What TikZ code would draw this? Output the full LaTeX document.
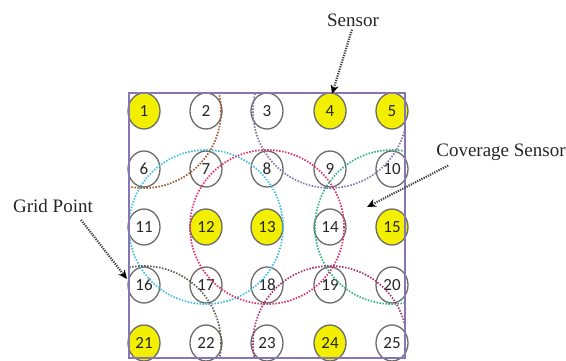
\documentclass[tikz,border=0pt]{standalone}
\usepackage{fontspec}
\setmainfont{Liberation Serif}
\newfontfamily\numfont{Carlito}
\usetikzlibrary{arrows.meta,shapes.geometric}

\definecolor{framecol}{HTML}{8676B6}
\definecolor{ringcol}{HTML}{6A6A6A}
\definecolor{sensorfill}{HTML}{F2F000}
\definecolor{covbrown}{HTML}{A0582E}
\definecolor{covpurple}{HTML}{8474A4}
\definecolor{covcyan}{HTML}{3EBFE0}
\definecolor{covpink}{HTML}{E0306C}
\definecolor{covteal}{HTML}{2EB08E}
\definecolor{covolive}{HTML}{5E5E52}
\definecolor{covmagenta}{HTML}{A8306E}
\definecolor{arrowcol}{HTML}{404040}

\tikzset{
  gridpt/.style={draw=ringcol, line width=1.3pt, ellipse, minimum width=32pt,
    minimum height=36pt, inner sep=0pt, font=\numfont\fontsize{17}{17}\selectfont, text=black!85},
  sensorpt/.style={gridpt, fill=sensorfill},
  coverage/.style={line width=1.7pt, dash pattern=on 1.5pt off 1.5pt},
  pointer/.style={draw=arrowcol, line width=2.2pt, dash pattern=on 1.2pt off 1.2pt,
    -{Stealth[length=9pt,width=8pt,black]}},
  caption/.style={font=\fontsize{19}{21}\selectfont, text=black!85, inner sep=1pt}
}

\begin{document}
\begin{tikzpicture}[x=1pt, y=-1pt]
\useasboundingbox (0,0) rectangle (566,360);

% grid of points; sensor positions are filled
\foreach \r/\y in {0/111, 1/169, 2/227, 3/285, 4/343} {
  \foreach \c/\x in {0/144, 1/206, 2/267, 3/330, 4/392} {
    \pgfmathtruncatemacro{\n}{\r*5+\c+1}
    \def\kind{gridpt}
    \foreach \s in {1,4,5,12,13,15,21,24} {\ifnum\s=\n\xdef\kind{sensorpt}\fi}
    \node[\kind] (s\n) at (\x,\y) {\n};
  }
}

% sensing ranges, clipped to the field
\begin{scope}
  \clip (129,93) rectangle (405,358);
  \draw[coverage, covbrown]   (s1.center)  circle[radius=77];
  \draw[coverage, covpurple]  (s4.center)  circle[radius=77];
  \draw[coverage, covcyan]    (s12.center) circle[radius=77];
  \draw[coverage, covpink]    (s13.center) circle[radius=77];
  \draw[coverage, covteal]    (s15.center) circle[radius=77];
  \draw[coverage, covolive]   (s21.center) circle[radius=77];
  \draw[coverage, covmagenta] (s24.center) circle[radius=77];
\end{scope}

% field boundary
\draw[framecol, line width=1.5pt] (129,93) rectangle (405,358);

% captions and pointers
\node[caption] (lsensor) at (353,20) {Sensor};
\node[caption] (lcov) at (501,152) {Coverage Sensor};
\node[caption] (lgrid) at (53,206) {Grid Point};

\coordinate (tsensor) at (332,94);
\coordinate (tcov) at (367,207);
\coordinate (tgrid) at (127,279);

\draw[pointer] (lsensor.south) ++(-1,2) -- (tsensor);
\draw[pointer] (lcov.south west) ++(13,4) -- (tcov);
\draw[pointer] (lgrid.south) ++(28,6) -- (tgrid);
\end{tikzpicture}
\end{document}
